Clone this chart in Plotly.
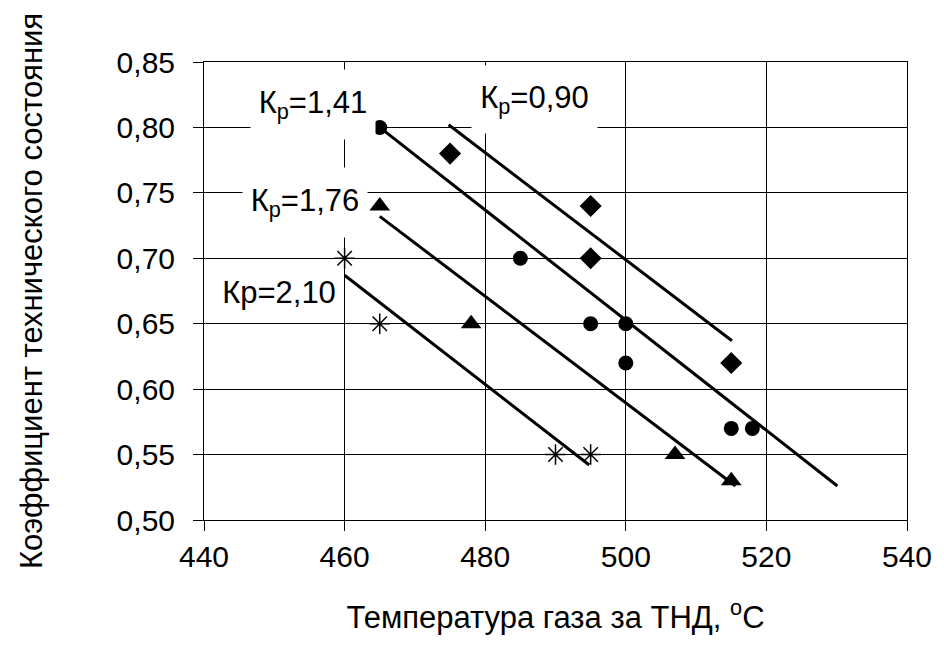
import plotly.graph_objects as go

# Data
kp_090_x = [475, 495, 495, 515]
kp_090_y = [0.78, 0.74, 0.70, 0.62]
kp_141_x = [465, 485, 495, 500, 500, 515, 518]
kp_141_y = [0.80, 0.70, 0.65, 0.65, 0.62, 0.57, 0.57]
kp_176_x = [465, 478, 507, 515]
kp_176_y = [0.74, 0.65, 0.55, 0.53]
kp_210_x = [460, 465, 490, 495]
kp_210_y = [0.70, 0.65, 0.55, 0.55]

# Trend lines (start, end)
line_090_x = [474.8, 515.1]
line_090_y = [0.802, 0.637]
line_141_x = [465, 530.1]
line_141_y = [0.80, 0.526]
line_176_x = [465, 515.6]
line_176_y = [0.732, 0.526]
line_210_x = [460, 494.8]
line_210_y = [0.687, 0.542]

labels = ["К<sub>р</sub>=0,90", "К<sub>р</sub>=1,41", "К<sub>р</sub>=1,76", "Кр=2,10"]
label_x = [486.96, 455.5, 454.4, 450.7]
label_y = [0.8212, 0.8174, 0.7424, 0.6745]
label_w = [123, 122, 122, 112]
label_h = [65, 67, 67, 48]

x_ticks = [440, 460, 480, 500, 520, 540]
y_ticks = [0.50, 0.55, 0.60, 0.65, 0.70, 0.75, 0.80, 0.85]

FONT = "Arial, Liberation Sans, sans-serif"

fig = go.Figure()

for lx, ly in [(line_090_x, line_090_y), (line_141_x, line_141_y),
               (line_176_x, line_176_y), (line_210_x, line_210_y)]:
    fig.add_trace(go.Scatter(x=lx, y=ly, mode="lines",
                             line=dict(color="black", width=3),
                             showlegend=False, hoverinfo="skip"))

fig.add_trace(go.Scatter(x=kp_090_x, y=kp_090_y, mode="markers",
                         marker=dict(symbol="diamond", size=17, color="black"),
                         showlegend=False))
fig.add_trace(go.Scatter(x=kp_141_x, y=kp_141_y, mode="markers",
                         marker=dict(symbol="circle", size=15, color="black"),
                         showlegend=False))
fig.add_trace(go.Scatter(x=kp_176_x, y=kp_176_y, mode="markers",
                         marker=dict(symbol="triangle-up", size=18, color="black"),
                         showlegend=False))
fig.add_trace(go.Scatter(x=kp_210_x, y=kp_210_y, mode="markers",
                         marker=dict(symbol="asterisk-open", size=17, color="black",
                                     line=dict(color="black", width=1.5)),
                         showlegend=False))

for t, x, y, w, h in zip(labels, label_x, label_y, label_w, label_h):
    fig.add_annotation(x=x, y=y, xref="x", yref="y", text=t, showarrow=False,
                       xanchor="center", yanchor="middle", width=w, height=h,
                       bgcolor="white", font=dict(family=FONT, size=31, color="black"))

fig.update_layout(
    width=944, height=648,
    margin=dict(l=204, r=32, t=62, b=128),
    paper_bgcolor="white", plot_bgcolor="white",
    separators=", ",
    font=dict(family=FONT, size=30, color="black"),
    xaxis=dict(range=[440, 540], tickvals=x_ticks, tickformat="d",
               showgrid=True, gridcolor="black", gridwidth=1,
               showline=True, linecolor="black", linewidth=1, mirror=True,
               ticks="outside", ticklen=10, tickcolor="black",
               zeroline=False, tickfont=dict(family=FONT, size=30),
               title=dict(text="Температура газа за ТНД, <sup>o</sup>С",
                          font=dict(family=FONT, size=31), standoff=34)),
    yaxis=dict(range=[0.50, 0.85], tickvals=y_ticks, tickformat=".2f",
               showgrid=True, gridcolor="black", gridwidth=1,
               showline=True, linecolor="black", linewidth=1, mirror=True,
               ticks="outside", ticklen=10, tickcolor="black",
               zeroline=False, ticklabelstandoff=12, tickfont=dict(family=FONT, size=30),
               title=dict(text="Коэффициент технического состояния",
                          font=dict(family=FONT, size=31), standoff=64)),
)

fig.write_html("out.html")
